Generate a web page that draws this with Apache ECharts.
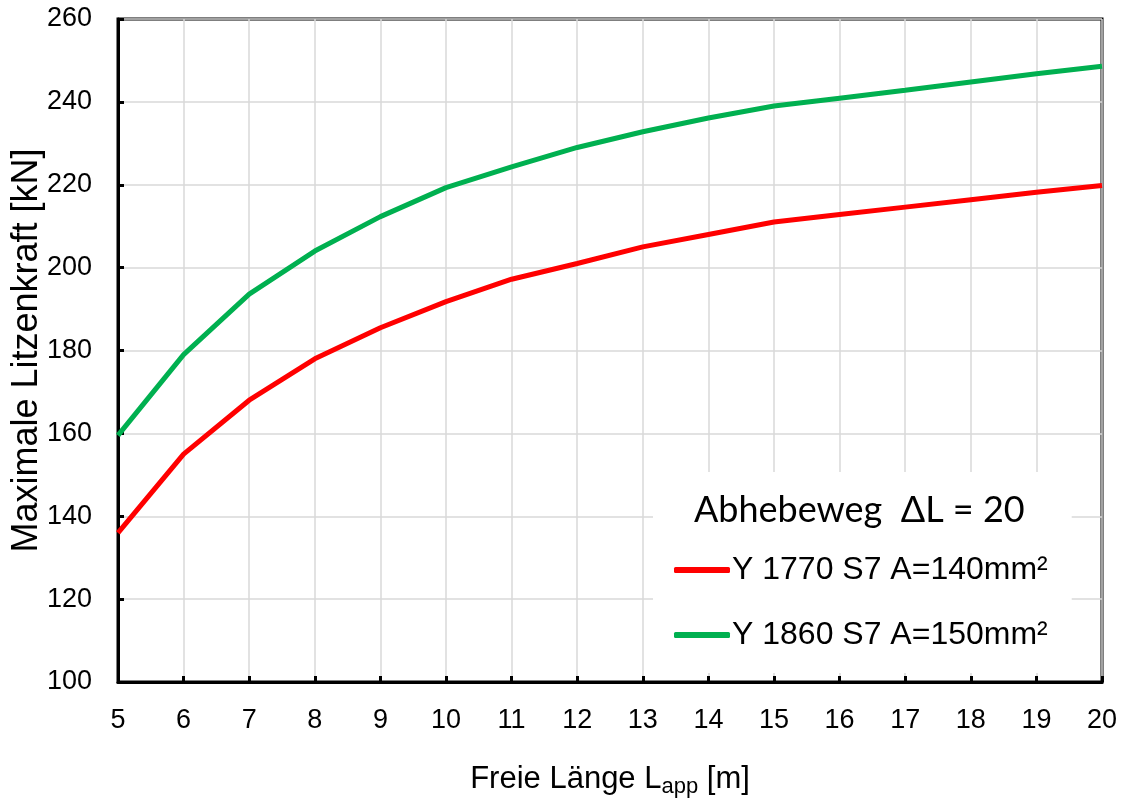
<!DOCTYPE html>
<html>
<head>
<meta charset="utf-8">
<script src="https://cdn.jsdelivr.net/npm/echarts@6/dist/echarts.min.js"></script>
<style>html,body{margin:0;padding:0;background:#fff}#c{width:1128px;height:803px}</style>
</head>
<body>
<div id="c"></div>
<script>
const xValues = [5, 6, 7, 8, 9, 10, 11, 12, 13, 14, 15, 16, 17, 18, 19, 20];
const redValues = [136, 155, 168, 178, 185.5, 191.8, 197.2, 201, 205, 208, 211, 212.8, 214.6, 216.4, 218.2, 219.8];
const greenValues = [159.5, 179, 193.6, 204, 212.3, 219.3, 224.3, 229, 232.8, 236.1, 239, 240.9, 242.8, 244.8, 246.8, 248.6];
const redName = 'Y 1770 S7 A=140mm²';
const greenName = 'Y 1860 S7 A=150mm²';
const legendTitle = 'Abhebeweg  ΔL = 20';

const font = '"Liberation Sans", Arial, sans-serif';
const chart = echarts.init(document.getElementById('c'), null, {renderer: 'canvas'});
chart.setOption({
  animation: false,
  backgroundColor: '#fff',
  grid: {left: 118, right: 26, top: 19, bottom: 121, show: true, borderColor: '#000', borderWidth: 3, backgroundColor: 'transparent', containLabel: false, outerBoundsMode: 'none'},
  xAxis: {
    type: 'value', min: 5, max: 20, interval: 1,
    name: 'Freie Länge L{s|app} [m]',
    nameLocation: 'middle', nameGap: 78, nameMoveOverlap: false,
    nameTextStyle: {fontFamily: font, fontSize: 31, color: '#000', rich: {s: {fontFamily: font, fontSize: 22, color: '#000', padding: [16, 0, 0, 0]}}},
    axisLine: {show: true, lineStyle: {color: '#000', width: 3}},
    axisTick: {show: true, inside: true, length: 6, lineStyle: {color: '#000', width: 3}},
    axisLabel: {fontFamily: font, fontSize: 27, color: '#000', margin: 25},
    splitLine: {show: true, lineStyle: {color: '#d9d9d9', width: 1.5}}
  },
  yAxis: {
    type: 'value', min: 100, max: 260, interval: 20,
    name: 'Maximale Litzenkraft [kN]',
    nameLocation: 'middle', nameGap: 73, nameMoveOverlap: false,
    nameTextStyle: {fontFamily: font, fontSize: 36, color: '#000'},
    axisLine: {show: true, lineStyle: {color: '#000', width: 3}},
    axisTick: {show: true, inside: true, length: 6, lineStyle: {color: '#000', width: 3}},
    axisLabel: {fontFamily: font, fontSize: 27, color: '#000', margin: 26},
    splitLine: {show: true, lineStyle: {color: '#d9d9d9', width: 1.5}}
  },
  legend: {
    orient: 'vertical', left: 653, top: 472,
    padding: [82, 24, 22, 21],
    backgroundColor: '#fff',
    itemWidth: 56, itemHeight: 6, itemGap: 33,
    icon: 'roundRect',
    textStyle: {fontFamily: font, fontSize: 32, color: '#000', padding: [0, 0, 0, -3]},
    data: [redName, greenName]
  },
  graphic: [{
    type: 'text', left: 694, top: 492, z: 100,
    style: {text: legendTitle, font: '36px Lato, "Open Sans", sans-serif', fill: '#000'}
  }],
  series: [
    {name: redName, type: 'line', data: xValues.map((x, i) => [x, redValues[i]]), showSymbol: false, symbol: 'none', lineStyle: {color: '#ff0000', width: 5}, itemStyle: {color: '#ff0000'}, z: 3},
    {name: greenName, type: 'line', data: xValues.map((x, i) => [x, greenValues[i]]), showSymbol: false, symbol: 'none', lineStyle: {color: '#00b050', width: 5}, itemStyle: {color: '#00b050'}, z: 3}
  ]
});
</script>
</body>
</html>
